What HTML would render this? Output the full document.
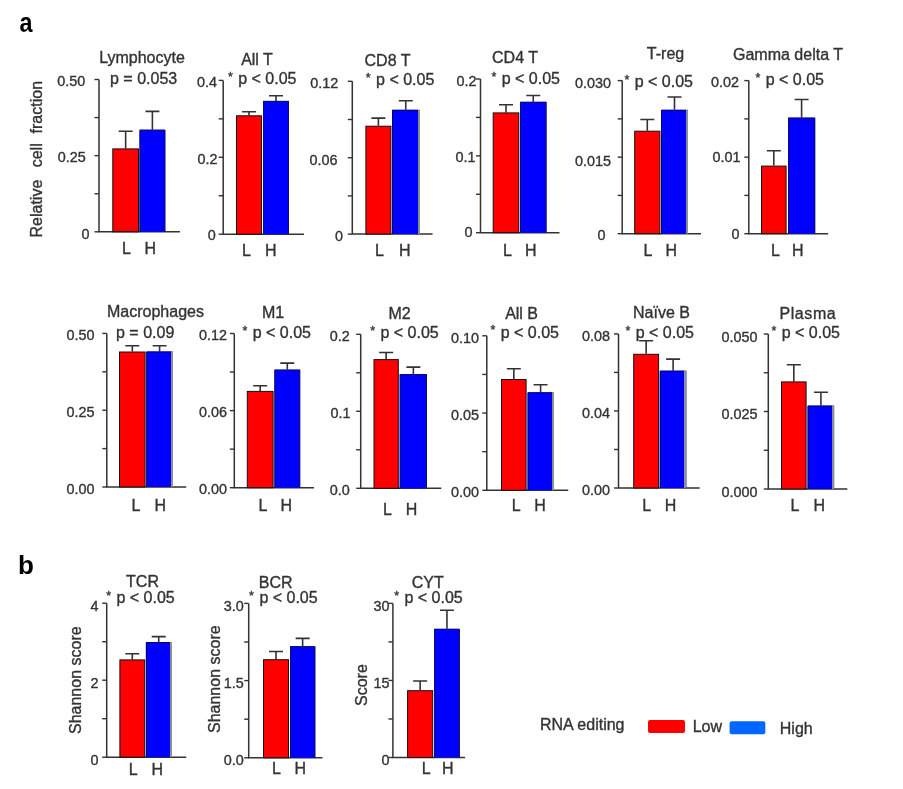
<!DOCTYPE html>
<html><head><meta charset="utf-8"><style>
html,body{margin:0;padding:0;background:#fff;}
svg{display:block;will-change:transform;}
text{font-family:"Liberation Sans", Arial, sans-serif;fill:#333;stroke:#333;stroke-width:0.35px;}
.tt{font-size:16px;}
.tk{font-size:14.4px;}
.yl{font-size:16px;}
.pl{font-size:26px;font-weight:bold;fill:#000;stroke:none;}
</style></head><body>
<svg width="903" height="789" viewBox="0 0 903 789">
<rect width="903" height="789" fill="#fff"/>
<path d="M99 79.5V231.8H179.9" fill="none" stroke="#333" stroke-width="1.5"/>
<path d="M94.5 79.50H99" stroke="#333" stroke-width="1.4"/>
<path d="M94.5 117.58H99" stroke="#333" stroke-width="1.4"/>
<path d="M94.5 155.65H99" stroke="#333" stroke-width="1.4"/>
<path d="M94.5 193.73H99" stroke="#333" stroke-width="1.4"/>
<path d="M94.5 231.80H99" stroke="#333" stroke-width="1.4"/>
<text x="85.20" y="85.60" text-anchor="end" class="tk">0.50</text>
<text x="85.80" y="162.45" text-anchor="end" class="tk">0.25</text>
<text x="89.40" y="239.15" text-anchor="end" class="tk">0</text>
<path d="M125.65 148.4V131.3M118.65 131.3H132.65" stroke="#333" stroke-width="1.6" fill="none"/>
<rect x="112.80" y="148.90" width="25.70" height="82.90" fill="#ff0000" stroke="#111" stroke-width="1"/>
<path d="M152.40 129.7V111.4M145.40 111.4H159.40" stroke="#333" stroke-width="1.6" fill="none"/>
<rect x="139.50" y="129.70" width="25.80" height="102.10" fill="#0000ff"/>
<path d="M140.0 231.8V130.2H164.8V231.8" stroke="#10105a" stroke-width="1" fill="none"/>
<text x="142.0" y="63.3" text-anchor="middle" class="tt">Lymphocyte</text>
<text x="110" y="84.4" class="tt">p = 0.053</text>
<text x="122" y="253.7" class="tt">L</text><text x="144.6" y="253.7" class="tt">H</text>
<path d="M223.2 80.4V234.2H304" fill="none" stroke="#333" stroke-width="1.5"/>
<path d="M218.7 80.40H223.2" stroke="#333" stroke-width="1.4"/>
<path d="M218.7 118.85H223.2" stroke="#333" stroke-width="1.4"/>
<path d="M218.7 157.30H223.2" stroke="#333" stroke-width="1.4"/>
<path d="M218.7 195.75H223.2" stroke="#333" stroke-width="1.4"/>
<path d="M218.7 234.20H223.2" stroke="#333" stroke-width="1.4"/>
<text x="217.10" y="87.45" text-anchor="end" class="tk">0.4</text>
<text x="217.50" y="163.65" text-anchor="end" class="tk">0.2</text>
<text x="215.70" y="240.15" text-anchor="end" class="tk">0</text>
<path d="M249.00 115.3V111.8M242.00 111.8H256.00" stroke="#333" stroke-width="1.6" fill="none"/>
<rect x="236.50" y="115.80" width="25.00" height="118.40" fill="#ff0000" stroke="#111" stroke-width="1"/>
<path d="M276.00 100.9V95.8M269.00 95.8H283.00" stroke="#333" stroke-width="1.6" fill="none"/>
<rect x="263.00" y="100.90" width="26.00" height="133.30" fill="#0000ff"/>
<path d="M263.5 234.2V101.4H288.5V234.2" stroke="#10105a" stroke-width="1" fill="none"/>
<text x="257.0" y="64.6" text-anchor="middle" class="tt">All T</text>
<text x="227.5" y="84.2" class="tt"><tspan font-size="12.5" dy="-3.3" dx="0.4">*</tspan><tspan dy="3.3" dx="0.97"> p &lt; 0.05</tspan></text>
<text x="242" y="256" class="tt">L</text><text x="265" y="256" class="tt">H</text>
<path d="M352.3 81.3V234.1H432.6" fill="none" stroke="#333" stroke-width="1.5"/>
<path d="M347.8 81.30H352.3" stroke="#333" stroke-width="1.4"/>
<path d="M347.8 119.50H352.3" stroke="#333" stroke-width="1.4"/>
<path d="M347.8 157.70H352.3" stroke="#333" stroke-width="1.4"/>
<path d="M347.8 195.90H352.3" stroke="#333" stroke-width="1.4"/>
<path d="M347.8 234.10H352.3" stroke="#333" stroke-width="1.4"/>
<text x="338.20" y="88.25" text-anchor="end" class="tk">0.12</text>
<text x="337.60" y="165.15" text-anchor="end" class="tk">0.06</text>
<text x="342.90" y="240.65" text-anchor="end" class="tk">0</text>
<path d="M378.40 125.7V118.1M371.40 118.1H385.40" stroke="#333" stroke-width="1.6" fill="none"/>
<rect x="365.90" y="126.20" width="25.00" height="107.90" fill="#ff0000" stroke="#111" stroke-width="1"/>
<path d="M405.75 109.8V100.8M398.75 100.8H412.75" stroke="#333" stroke-width="1.6" fill="none"/>
<rect x="392.00" y="109.80" width="27.50" height="124.30" fill="#0000ff"/>
<path d="M392.5 234.1V110.3H418" stroke="#000066" stroke-width="1" fill="none"/>
<rect x="418" y="109.8" width="2" height="124.3" fill="#8c8f8f"/>
<text x="387.5" y="66" text-anchor="middle" class="tt">CD8 T</text>
<text x="365.4" y="84.9" class="tt"><tspan font-size="12.5" dy="-3.3" dx="0.4">*</tspan><tspan dy="3.3" dx="0.97"> p &lt; 0.05</tspan></text>
<text x="375" y="256" class="tt">L</text><text x="399" y="256" class="tt">H</text>
<path d="M480.5 79V232.7H559.5" fill="none" stroke="#333" stroke-width="1.5"/>
<path d="M476.0 79.00H480.5" stroke="#333" stroke-width="1.4"/>
<path d="M476.0 117.42H480.5" stroke="#333" stroke-width="1.4"/>
<path d="M476.0 155.85H480.5" stroke="#333" stroke-width="1.4"/>
<path d="M476.0 194.27H480.5" stroke="#333" stroke-width="1.4"/>
<path d="M476.0 232.70H480.5" stroke="#333" stroke-width="1.4"/>
<text x="476.50" y="85.55" text-anchor="end" class="tk">0.2</text>
<text x="475.50" y="162.25" text-anchor="end" class="tk">0.1</text>
<text x="472.60" y="236.75" text-anchor="end" class="tk">0</text>
<path d="M506.00 112.4V104.8M499.00 104.8H513.00" stroke="#333" stroke-width="1.6" fill="none"/>
<rect x="493.20" y="112.90" width="25.60" height="119.80" fill="#ff0000" stroke="#111" stroke-width="1"/>
<path d="M533.25 101.8V95.5M526.25 95.5H540.25" stroke="#333" stroke-width="1.6" fill="none"/>
<rect x="520.00" y="101.80" width="26.50" height="130.90" fill="#0000ff"/>
<path d="M520.5 232.7V102.3H546.0V232.7" stroke="#10105a" stroke-width="1" fill="none"/>
<text x="515.0" y="63.3" text-anchor="middle" class="tt">CD4 T</text>
<text x="491" y="84.2" class="tt"><tspan font-size="12.5" dy="-3.3" dx="0.4">*</tspan><tspan dy="3.3" dx="0.97"> p &lt; 0.05</tspan></text>
<text x="503" y="256.2" class="tt">L</text><text x="525" y="256.2" class="tt">H</text>
<path d="M622.2 80.6V233.7H701" fill="none" stroke="#333" stroke-width="1.5"/>
<path d="M617.7 80.60H622.2" stroke="#333" stroke-width="1.4"/>
<path d="M617.7 118.88H622.2" stroke="#333" stroke-width="1.4"/>
<path d="M617.7 157.15H622.2" stroke="#333" stroke-width="1.4"/>
<path d="M617.7 195.42H622.2" stroke="#333" stroke-width="1.4"/>
<path d="M617.7 233.70H622.2" stroke="#333" stroke-width="1.4"/>
<text x="611.10" y="88.25" text-anchor="end" class="tk">0.030</text>
<text x="611.00" y="165.55" text-anchor="end" class="tk">0.015</text>
<text x="605.40" y="240.25" text-anchor="end" class="tk">0</text>
<path d="M647.30 130.7V119.5M640.30 119.5H654.30" stroke="#333" stroke-width="1.6" fill="none"/>
<rect x="634.70" y="131.20" width="25.20" height="102.50" fill="#ff0000" stroke="#111" stroke-width="1"/>
<path d="M674.50 109.8V97M667.50 97H681.50" stroke="#333" stroke-width="1.6" fill="none"/>
<rect x="661.00" y="109.80" width="27.00" height="123.90" fill="#0000ff"/>
<path d="M661.5 233.7V110.3H686" stroke="#000066" stroke-width="1" fill="none"/>
<rect x="686" y="109.8" width="2" height="123.89999999999999" fill="#8c8f8f"/>
<text x="665.5" y="59.4" text-anchor="middle" class="tt">T-reg</text>
<text x="624" y="87.3" class="tt"><tspan font-size="12.5" dy="-3.3" dx="0.4">*</tspan><tspan dy="3.3" dx="0.97"> p &lt; 0.05</tspan></text>
<text x="643.5" y="256.2" class="tt">L</text><text x="665.5" y="256.2" class="tt">H</text>
<path d="M748.8 80.6V233.7H828.2" fill="none" stroke="#333" stroke-width="1.5"/>
<path d="M744.3 80.60H748.8" stroke="#333" stroke-width="1.4"/>
<path d="M744.3 118.88H748.8" stroke="#333" stroke-width="1.4"/>
<path d="M744.3 157.15H748.8" stroke="#333" stroke-width="1.4"/>
<path d="M744.3 195.42H748.8" stroke="#333" stroke-width="1.4"/>
<path d="M744.3 233.70H748.8" stroke="#333" stroke-width="1.4"/>
<text x="739.10" y="86.95" text-anchor="end" class="tk">0.02</text>
<text x="740.50" y="162.35" text-anchor="end" class="tk">0.01</text>
<text x="739.60" y="239.45" text-anchor="end" class="tk">0</text>
<path d="M773.80 165.6V150.8M766.80 150.8H780.80" stroke="#333" stroke-width="1.6" fill="none"/>
<rect x="761.50" y="166.10" width="24.60" height="67.60" fill="#ff0000" stroke="#111" stroke-width="1"/>
<path d="M801.60 117.6V99.5M794.60 99.5H808.60" stroke="#333" stroke-width="1.6" fill="none"/>
<rect x="788.00" y="117.60" width="27.20" height="116.10" fill="#0000ff"/>
<path d="M788.5 233.7V118.1H814.7V233.7" stroke="#10105a" stroke-width="1" fill="none"/>
<text x="788.0" y="59.5" text-anchor="middle" class="tt">Gamma delta T</text>
<text x="755" y="85" class="tt"><tspan font-size="12.5" dy="-3.3" dx="0.4">*</tspan><tspan dy="3.3" dx="0.97"> p &lt; 0.05</tspan></text>
<text x="771" y="256.4" class="tt">L</text><text x="792" y="256.4" class="tt">H</text>
<path d="M106.8 333.4V487H186.2" fill="none" stroke="#333" stroke-width="1.5"/>
<path d="M102.3 333.40H106.8" stroke="#333" stroke-width="1.4"/>
<path d="M102.3 371.80H106.8" stroke="#333" stroke-width="1.4"/>
<path d="M102.3 410.20H106.8" stroke="#333" stroke-width="1.4"/>
<path d="M102.3 448.60H106.8" stroke="#333" stroke-width="1.4"/>
<path d="M102.3 487.00H106.8" stroke="#333" stroke-width="1.4"/>
<text x="94.50" y="340.35" text-anchor="end" class="tk">0.50</text>
<text x="94.50" y="417.15" text-anchor="end" class="tk">0.25</text>
<text x="94.50" y="493.95" text-anchor="end" class="tk">0.00</text>
<path d="M132.30 351.5V345.8M125.30 345.8H139.30" stroke="#333" stroke-width="1.6" fill="none"/>
<rect x="119.50" y="352.00" width="25.60" height="135.00" fill="#ff0000" stroke="#111" stroke-width="1"/>
<path d="M159.60 351.5V345.8M152.60 345.8H166.60" stroke="#333" stroke-width="1.6" fill="none"/>
<rect x="146.30" y="351.50" width="26.60" height="135.50" fill="#0000ff"/>
<path d="M146.8 487V352.0H171" stroke="#000066" stroke-width="1" fill="none"/>
<rect x="171" y="351.5" width="2" height="135.5" fill="#8c8f8f"/>
<text x="155.5" y="317.2" text-anchor="middle" class="tt">Macrophages</text>
<text x="116" y="337.9" class="tt">p = 0.09</text>
<text x="131.4" y="510.5" class="tt">L</text><text x="154.6" y="510.5" class="tt">H</text>
<path d="M234.3 333.5V487.7H314" fill="none" stroke="#333" stroke-width="1.5"/>
<path d="M229.8 333.50H234.3" stroke="#333" stroke-width="1.4"/>
<path d="M229.8 372.05H234.3" stroke="#333" stroke-width="1.4"/>
<path d="M229.8 410.60H234.3" stroke="#333" stroke-width="1.4"/>
<path d="M229.8 449.15H234.3" stroke="#333" stroke-width="1.4"/>
<path d="M229.8 487.70H234.3" stroke="#333" stroke-width="1.4"/>
<text x="226.90" y="340.25" text-anchor="end" class="tk">0.12</text>
<text x="226.90" y="417.35" text-anchor="end" class="tk">0.06</text>
<text x="226.90" y="494.45" text-anchor="end" class="tk">0.00</text>
<path d="M260.20 390.9V385.7M253.20 385.7H267.20" stroke="#333" stroke-width="1.6" fill="none"/>
<rect x="247.30" y="391.40" width="25.80" height="96.30" fill="#ff0000" stroke="#111" stroke-width="1"/>
<path d="M287.30 369.6V363.1M280.30 363.1H294.30" stroke="#333" stroke-width="1.6" fill="none"/>
<rect x="274.40" y="369.60" width="25.80" height="118.10" fill="#0000ff"/>
<path d="M274.9 487.7V370.1H299.7V487.7" stroke="#10105a" stroke-width="1" fill="none"/>
<text x="273.0" y="318" text-anchor="middle" class="tt">M1</text>
<text x="242" y="338" class="tt"><tspan font-size="12.5" dy="-3.3" dx="0.4">*</tspan><tspan dy="3.3" dx="0.97"> p &lt; 0.05</tspan></text>
<text x="258.5" y="510.5" class="tt">L</text><text x="280.5" y="510.5" class="tt">H</text>
<path d="M360.7 334.3V488.3H441.3" fill="none" stroke="#333" stroke-width="1.5"/>
<path d="M356.2 334.30H360.7" stroke="#333" stroke-width="1.4"/>
<path d="M356.2 372.80H360.7" stroke="#333" stroke-width="1.4"/>
<path d="M356.2 411.30H360.7" stroke="#333" stroke-width="1.4"/>
<path d="M356.2 449.80H360.7" stroke="#333" stroke-width="1.4"/>
<path d="M356.2 488.30H360.7" stroke="#333" stroke-width="1.4"/>
<text x="349.70" y="341.05" text-anchor="end" class="tk">0.2</text>
<text x="350.50" y="418.25" text-anchor="end" class="tk">0.1</text>
<text x="349.70" y="495.15" text-anchor="end" class="tk">0.0</text>
<path d="M386.15 359.1V352.5M379.15 352.5H393.15" stroke="#333" stroke-width="1.6" fill="none"/>
<rect x="374.00" y="359.60" width="24.30" height="128.70" fill="#ff0000" stroke="#111" stroke-width="1"/>
<path d="M413.35 374V367.1M406.35 367.1H420.35" stroke="#333" stroke-width="1.6" fill="none"/>
<rect x="399.70" y="374.00" width="27.30" height="114.30" fill="#0000ff"/>
<path d="M400.2 488.3V374.5H426.5V488.3" stroke="#10105a" stroke-width="1" fill="none"/>
<text x="399.5" y="319" text-anchor="middle" class="tt">M2</text>
<text x="369.8" y="338" class="tt"><tspan font-size="12.5" dy="-3.3" dx="0.4">*</tspan><tspan dy="3.3" dx="0.97"> p &lt; 0.05</tspan></text>
<text x="383" y="514.5" class="tt">L</text><text x="405.7" y="514.5" class="tt">H</text>
<path d="M486.8 335.8V490.3H568.2" fill="none" stroke="#333" stroke-width="1.5"/>
<path d="M482.3 335.80H486.8" stroke="#333" stroke-width="1.4"/>
<path d="M482.3 374.43H486.8" stroke="#333" stroke-width="1.4"/>
<path d="M482.3 413.05H486.8" stroke="#333" stroke-width="1.4"/>
<path d="M482.3 451.68H486.8" stroke="#333" stroke-width="1.4"/>
<path d="M482.3 490.30H486.8" stroke="#333" stroke-width="1.4"/>
<text x="479.10" y="342.95" text-anchor="end" class="tk">0.10</text>
<text x="479.10" y="420.20" text-anchor="end" class="tk">0.05</text>
<text x="479.10" y="497.45" text-anchor="end" class="tk">0.00</text>
<path d="M513.80 379V368.7M506.80 368.7H520.80" stroke="#333" stroke-width="1.6" fill="none"/>
<rect x="501.50" y="379.50" width="24.60" height="110.80" fill="#ff0000" stroke="#111" stroke-width="1"/>
<path d="M540.60 392.3V384.7M533.60 384.7H547.60" stroke="#333" stroke-width="1.6" fill="none"/>
<rect x="527.60" y="392.30" width="26.00" height="98.00" fill="#0000ff"/>
<path d="M528.1 490.3V392.8H552" stroke="#000066" stroke-width="1" fill="none"/>
<rect x="552" y="392.3" width="2" height="98.0" fill="#8c8f8f"/>
<text x="521.6" y="319.3" text-anchor="middle" class="tt">All B</text>
<text x="490" y="337.5" class="tt"><tspan font-size="12.5" dy="-3.3" dx="0.4">*</tspan><tspan dy="3.3" dx="0.97"> p &lt; 0.05</tspan></text>
<text x="511.7" y="510.5" class="tt">L</text><text x="534.3" y="510.5" class="tt">H</text>
<path d="M618.5 333.9V488H699.7" fill="none" stroke="#333" stroke-width="1.5"/>
<path d="M614.0 333.90H618.5" stroke="#333" stroke-width="1.4"/>
<path d="M614.0 372.42H618.5" stroke="#333" stroke-width="1.4"/>
<path d="M614.0 410.95H618.5" stroke="#333" stroke-width="1.4"/>
<path d="M614.0 449.48H618.5" stroke="#333" stroke-width="1.4"/>
<path d="M614.0 488.00H618.5" stroke="#333" stroke-width="1.4"/>
<text x="610.10" y="340.95" text-anchor="end" class="tk">0.08</text>
<text x="610.10" y="418.00" text-anchor="end" class="tk">0.04</text>
<text x="610.10" y="495.05" text-anchor="end" class="tk">0.00</text>
<path d="M646.15 353.8V340.8M639.15 340.8H653.15" stroke="#333" stroke-width="1.6" fill="none"/>
<rect x="633.70" y="354.30" width="24.90" height="133.70" fill="#ff0000" stroke="#111" stroke-width="1"/>
<path d="M673.10 370.7V359.1M666.10 359.1H680.10" stroke="#333" stroke-width="1.6" fill="none"/>
<rect x="659.80" y="370.70" width="26.60" height="117.30" fill="#0000ff"/>
<path d="M660.3 488V371.2H684" stroke="#000066" stroke-width="1" fill="none"/>
<rect x="684" y="370.7" width="2" height="117.30000000000001" fill="#8c8f8f"/>
<text x="661.5" y="317.5" text-anchor="middle" class="tt">Naïve B</text>
<text x="625" y="338" class="tt"><tspan font-size="12.5" dy="-3.3" dx="0.4">*</tspan><tspan dy="3.3" dx="0.97"> p &lt; 0.05</tspan></text>
<text x="642.2" y="510.5" class="tt">L</text><text x="664.8" y="510.5" class="tt">H</text>
<path d="M768.3 334V489H847.3" fill="none" stroke="#333" stroke-width="1.5"/>
<path d="M763.8 334.00H768.3" stroke="#333" stroke-width="1.4"/>
<path d="M763.8 372.75H768.3" stroke="#333" stroke-width="1.4"/>
<path d="M763.8 411.50H768.3" stroke="#333" stroke-width="1.4"/>
<path d="M763.8 450.25H768.3" stroke="#333" stroke-width="1.4"/>
<path d="M763.8 489.00H768.3" stroke="#333" stroke-width="1.4"/>
<text x="757.40" y="341.65" text-anchor="end" class="tk">0.050</text>
<text x="757.40" y="419.15" text-anchor="end" class="tk">0.025</text>
<text x="757.40" y="496.65" text-anchor="end" class="tk">0.000</text>
<path d="M793.80 381.4V364.8M786.80 364.8H800.80" stroke="#333" stroke-width="1.6" fill="none"/>
<rect x="781.50" y="381.90" width="24.60" height="107.10" fill="#ff0000" stroke="#111" stroke-width="1"/>
<path d="M820.90 405.6V392.3M813.90 392.3H827.90" stroke="#333" stroke-width="1.6" fill="none"/>
<rect x="807.60" y="405.60" width="26.60" height="83.40" fill="#0000ff"/>
<path d="M808.1 489V406.1H832" stroke="#000066" stroke-width="1" fill="none"/>
<rect x="832" y="405.6" width="2" height="83.39999999999998" fill="#8c8f8f"/>
<text x="807.9" y="319" text-anchor="middle" class="tt" letter-spacing="0.6">Plasma</text>
<text x="771" y="338" class="tt"><tspan font-size="12.5" dy="-3.3" dx="0.4">*</tspan><tspan dy="3.3" dx="0.97"> p &lt; 0.05</tspan></text>
<text x="790.5" y="510.5" class="tt">L</text><text x="813.4" y="510.5" class="tt">H</text>
<path d="M106.7 603.2V757.2H186.3" fill="none" stroke="#333" stroke-width="1.5"/>
<path d="M102.2 603.20H106.7" stroke="#333" stroke-width="1.4"/>
<path d="M102.2 641.70H106.7" stroke="#333" stroke-width="1.4"/>
<path d="M102.2 680.20H106.7" stroke="#333" stroke-width="1.4"/>
<path d="M102.2 718.70H106.7" stroke="#333" stroke-width="1.4"/>
<path d="M102.2 757.20H106.7" stroke="#333" stroke-width="1.4"/>
<text x="98.60" y="610.75" text-anchor="end" class="tk">4</text>
<text x="98.60" y="687.75" text-anchor="end" class="tk">2</text>
<text x="98.60" y="764.75" text-anchor="end" class="tk">0</text>
<path d="M132.30 659.4V653.7M125.30 653.7H139.30" stroke="#333" stroke-width="1.6" fill="none"/>
<rect x="119.90" y="659.90" width="24.80" height="97.30" fill="#ff0000" stroke="#111" stroke-width="1"/>
<path d="M158.70 642V636.6M151.70 636.6H165.70" stroke="#333" stroke-width="1.6" fill="none"/>
<rect x="145.90" y="642.00" width="25.60" height="115.20" fill="#0000ff"/>
<path d="M146.4 757.2V642.5H170" stroke="#000066" stroke-width="1" fill="none"/>
<rect x="170" y="642" width="2" height="115.20000000000005" fill="#8c8f8f"/>
<text x="142.5" y="587.2" text-anchor="middle" class="tt">TCR</text>
<text x="105.8" y="603.1" class="tt"><tspan font-size="12.5" dy="-3.3" dx="0.4">*</tspan><tspan dy="3.3" dx="0.97"> p &lt; 0.05</tspan></text>
<text x="128.8" y="775.2" class="tt">L</text><text x="151.6" y="775.2" class="tt">H</text>
<path d="M248.7 603.4V757.8H322.5" fill="none" stroke="#333" stroke-width="1.5"/>
<path d="M244.2 603.40H248.7" stroke="#333" stroke-width="1.4"/>
<path d="M244.2 642.00H248.7" stroke="#333" stroke-width="1.4"/>
<path d="M244.2 680.60H248.7" stroke="#333" stroke-width="1.4"/>
<path d="M244.2 719.20H248.7" stroke="#333" stroke-width="1.4"/>
<path d="M244.2 757.80H248.7" stroke="#333" stroke-width="1.4"/>
<text x="243.80" y="610.55" text-anchor="end" class="tk">3.0</text>
<text x="243.80" y="687.75" text-anchor="end" class="tk">1.5</text>
<text x="243.80" y="764.95" text-anchor="end" class="tk">0.0</text>
<path d="M276.00 659.2V651.5M269.00 651.5H283.00" stroke="#333" stroke-width="1.6" fill="none"/>
<rect x="263.50" y="659.70" width="25.00" height="98.10" fill="#ff0000" stroke="#111" stroke-width="1"/>
<path d="M302.65 646.2V638.4M295.65 638.4H309.65" stroke="#333" stroke-width="1.6" fill="none"/>
<rect x="290.00" y="646.20" width="25.30" height="111.60" fill="#0000ff"/>
<path d="M290.5 757.8V646.7H314.8V757.8" stroke="#10105a" stroke-width="1" fill="none"/>
<text x="275.6" y="587.5" text-anchor="middle" class="tt">BCR</text>
<text x="248.7" y="603.1" class="tt"><tspan font-size="12.5" dy="-3.3" dx="0.4">*</tspan><tspan dy="3.3" dx="0.97"> p &lt; 0.05</tspan></text>
<text x="272" y="774" class="tt">L</text><text x="294.6" y="774" class="tt">H</text>
<path d="M392.9 603.4V757.5H465.1" fill="none" stroke="#333" stroke-width="1.5"/>
<path d="M388.4 603.40H392.9" stroke="#333" stroke-width="1.4"/>
<path d="M388.4 641.92H392.9" stroke="#333" stroke-width="1.4"/>
<path d="M388.4 680.45H392.9" stroke="#333" stroke-width="1.4"/>
<path d="M388.4 718.98H392.9" stroke="#333" stroke-width="1.4"/>
<path d="M388.4 757.50H392.9" stroke="#333" stroke-width="1.4"/>
<text x="389.40" y="610.55" text-anchor="end" class="tk">30</text>
<text x="389.40" y="687.60" text-anchor="end" class="tk">15</text>
<text x="389.40" y="764.65" text-anchor="end" class="tk">0</text>
<path d="M420.15 690.2V681M413.15 681H427.15" stroke="#333" stroke-width="1.6" fill="none"/>
<rect x="407.60" y="690.70" width="25.10" height="66.80" fill="#ff0000" stroke="#111" stroke-width="1"/>
<path d="M446.95 628.8V610.2M439.95 610.2H453.95" stroke="#333" stroke-width="1.6" fill="none"/>
<rect x="434.10" y="628.80" width="25.70" height="128.70" fill="#0000ff"/>
<path d="M434.6 757.5V629.3H459.3V757.5" stroke="#10105a" stroke-width="1" fill="none"/>
<text x="427.8" y="587.5" text-anchor="middle" class="tt">CYT</text>
<text x="393.8" y="603.1" class="tt"><tspan font-size="12.5" dy="-3.3" dx="0.4">*</tspan><tspan dy="3.3" dx="0.97"> p &lt; 0.05</tspan></text>
<text x="421.7" y="774" class="tt">L</text><text x="441.9" y="774" class="tt">H</text>

<text transform="translate(19.6 31.6) scale(0.9 1.07)" class="pl">a</text>
<text x="18" y="573.6" class="pl">b</text>
<text transform="translate(41.5 237.5) rotate(-90)" class="yl">Relative</text><text transform="translate(41.5 167.3) rotate(-90)" class="yl">cell</text><text transform="translate(41.5 133.4) rotate(-90)" class="yl">fraction</text>
<text transform="translate(81.4 734) rotate(-90)" class="yl">Shannon score</text>
<text transform="translate(220 733) rotate(-90)" class="yl">Shannon score</text>
<text transform="translate(367 706) rotate(-90)" class="yl">Score</text>
<text x="540" y="730.3" class="tt">RNA editing</text>
<rect x="648" y="720" width="37" height="13" rx="2" fill="#ff0000"/>
<text x="692.7" y="731.7" class="tt">Low</text>
<rect x="729.6" y="721.2" width="35.7" height="13" rx="2" fill="#0066ff"/>
<text x="779.8" y="734" class="tt">High</text>

</svg>
</body></html>
